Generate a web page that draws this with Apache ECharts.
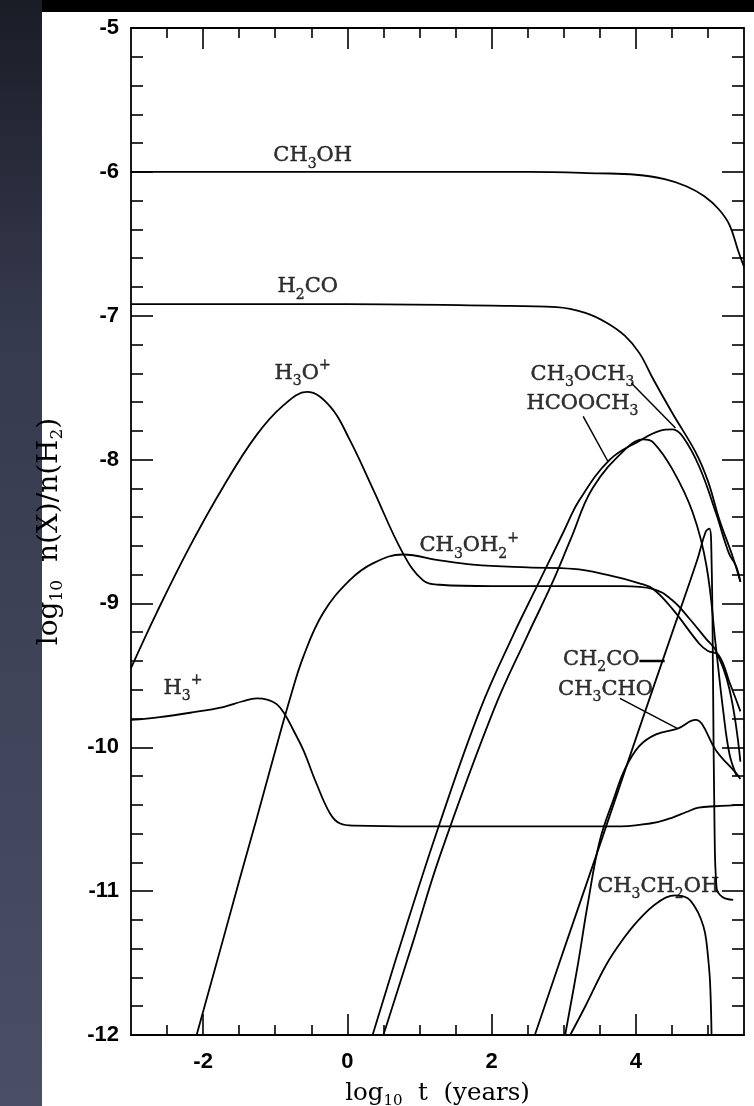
<!DOCTYPE html>
<html><head><meta charset="utf-8">
<script src="https://cdn.jsdelivr.net/npm/echarts@6/dist/echarts.min.js"></script>
<style>
html,body{margin:0;padding:0;background:#000;width:754px;height:1106px;overflow:hidden;}
#bgLeft{position:absolute;left:0;top:0;width:42px;height:1106px;background:linear-gradient(to bottom,#1a1c26 0%,#363a4e 30%,#4a4f66 100%);}
#panel{position:absolute;left:42px;top:12px;width:712px;height:1094px;background:#fff;}
#chart{position:absolute;left:0;top:0;width:754px;height:1106px;}
</style></head><body>
<div id="bgLeft"></div><div id="panel"></div><div id="chart"></div>
<script>
// ---- axis ticks ----
const xMin = -3, xMax = 5.5, yMin = -12, yMax = -5;
const xLabelTicks = [-2, 0, 2, 4];
const xMinorTicks = [-2.5, -1.5, -1, -0.5, 0.5, 1, 1.5, 2.5, 3, 3.5, 4.5, 5];
const yLabelTicks = [-12, -11, -10, -9, -8, -7, -6, -5];
const yMinorTicks = [];
for (let k = -12; k < -5; k++) { for (let j = 1; j <= 4; j++) yMinorTicks.push(+(k + j * 0.2).toFixed(1)); }

// ---- curves (log10 t, log10 abundance) ----
const ch3ohX = [-3, -1, 1, 2.5, 3.5, 4.0, 4.4, 4.7, 4.95, 5.15, 5.3, 5.42, 5.5];
const ch3ohY = [-6.0, -6.0, -6.0, -6.0, -6.01, -6.02, -6.05, -6.10, -6.17, -6.26, -6.37, -6.55, -6.66];

const h2coX = [-3, 0, 2, 2.9, 3.3, 3.6, 3.85, 4.05, 4.24, 4.51, 4.83, 5.0, 5.16, 5.34, 5.45];
const h2coY = [-6.92, -6.92, -6.93, -6.94, -6.98, -7.05, -7.14, -7.26, -7.44, -7.68, -7.95, -8.15, -8.42, -8.67, -8.85];

const h3oX = [-3, -2.64, -2.18, -1.71, -1.26, -0.88, -0.56, -0.24, 0.03, 0.36, 0.77, 1.05, 1.28, 2, 3, 3.82, 4.24, 4.51, 4.75, 4.98, 5.1, 5.3, 5.45];
const h3oY = [-9.45, -9.06, -8.6, -8.18, -7.83, -7.62, -7.53, -7.63, -7.86, -8.21, -8.65, -8.84, -8.87, -8.88, -8.88, -8.88, -8.90, -8.98, -9.11, -9.25, -9.32, -9.6, -10.1];

const h3pX = [-3, -2.6, -2.18, -1.72, -1.45, -1.26, -1.1, -0.98, -0.88, -0.75, -0.61, -0.43, -0.24, -0.1, 0.1, 1, 2, 3, 3.8, 4.04, 4.3, 4.5, 4.7, 4.87, 5.1, 5.5];
const h3pY = [-9.81, -9.79, -9.76, -9.72, -9.68, -9.66, -9.67, -9.70, -9.76, -9.88, -10.02, -10.25, -10.46, -10.53, -10.545, -10.55, -10.55, -10.55, -10.55, -10.54, -10.52, -10.49, -10.45, -10.42, -10.41, -10.40];

const ch3oh2X = [-2.09, -1.72, -1.49, -1.26, -1.03, -0.8, -0.61, -0.34, 0.03, 0.36, 0.77, 1.28, 1.74, 2.5, 3.13, 3.59, 4.05, 4.24, 4.51, 4.88, 5.0, 5.15, 5.3, 5.45];
const ch3oh2Y = [-12, -11.33, -10.91, -10.5, -10.08, -9.67, -9.37, -9.07, -8.84, -8.72, -8.66, -8.70, -8.73, -8.75, -8.76, -8.80, -8.86, -8.90, -9.04, -9.28, -9.33, -9.36, -9.55, -9.75];

const ch3och3X = [0.35, 0.8, 1.28, 1.84, 2.3, 2.64, 3.0, 3.22, 3.64, 4.05, 4.33, 4.51, 4.65, 4.88, 5.11, 5.29, 5.39, 5.45];
const ch3och3Y = [-12, -11.27, -10.53, -9.74, -9.22, -8.87, -8.5, -8.28, -8.0, -7.87, -7.80, -7.79, -7.84, -8.05, -8.37, -8.65, -8.74, -8.85];

const hcooch3X = [0.5, 0.9, 1.28, 2.03, 2.5, 2.83, 3.1, 3.40, 3.87, 4.10, 4.24, 4.51, 4.79, 4.98, 5.11, 5.21, 5.3, 5.4];
const hcooch3Y = [-12, -11.37, -10.76, -9.74, -9.22, -8.87, -8.55, -8.20, -7.92, -7.86, -7.88, -8.07, -8.37, -8.74, -9.30, -9.74, -10.05, -10.2];

const ch2coX = [2.6, 3.0, 3.5, 4.0, 4.5, 4.85, 4.97, 5.02, 5.05, 5.07, 5.09, 5.12, 5.2, 5.35];
const ch2coY = [-12, -11.41, -10.68, -9.94, -9.21, -8.7, -8.5, -8.48, -8.7, -9.5, -10.5, -10.98, -11.04, -11.06];

const ch3choX = [3.02, 3.2, 3.33, 3.5, 3.7, 3.85, 4.05, 4.28, 4.58, 4.83, 4.92, 5.11, 5.39, 5.45];
const ch3choY = [-12, -11.5, -11.1, -10.65, -10.35, -10.15, -9.99, -9.91, -9.87, -9.81, -9.84, -10.02, -10.18, -10.22];

const c2h5ohX = [3.09, 3.3, 3.58, 3.8, 4.04, 4.3, 4.55, 4.72, 4.82, 4.9, 4.96, 5.0, 5.03, 5.05];
const c2h5ohY = [-12, -11.8, -11.52, -11.35, -11.2, -11.08, -11.03, -11.05, -11.11, -11.19, -11.29, -11.45, -11.64, -12.0];

// ---- curve labels: position (data coordinates) and text ----
const labelX = [-0.48, -0.55, -0.62, 1.69, -2.28, 3.26, 3.26, 3.52, 3.58, 4.31];
const labelY = [-5.89, -6.80, -7.40, -8.60, -9.59, -7.41, -7.61, -9.39, -9.60, -10.97];
const labelText = [
  'CH{sub|3}OH', 'H{sub|2}CO', 'H{sub|3}O{sup|+}', 'CH{sub|3}OH{sub|2}{sup|+}', 'H{sub|3}{sup|+}',
  'CH{sub|3}OCH{sub|3}', 'HCOOCH{sub|3}', 'CH{sub|2}CO', 'CH{sub|3}CHO', 'CH{sub|3}CH{sub|2}OH'
];

// ---- leader lines ----
const leaderA = [[3.94, -7.47], [4.55, -7.78]];   // CH3OCH3
const leaderB = [[3.27, -7.70], [3.61, -8.01]];   // HCOOCH3
const leaderC = [[4.05, -9.40], [4.40, -9.40]];   // CH2CO
const leaderD = [[3.78, -9.66], [4.58, -9.87]];   // CH3CHO

function zip(xs, ys) { return xs.map((x, i) => [x, ys[i]]); }

const curveStyle = { color: '#000', width: 1.8 };
function curve(name, xs, ys) {
  return { name, type: 'line', data: zip(xs, ys), showSymbol: false, smooth: 0.4,
    lineStyle: curveStyle, itemStyle: { color: '#000' }, silent: true, animation: false, z: 3 };
}
function leader(pts, w) {
  return { type: 'line', data: pts, showSymbol: false, lineStyle: { color: '#000', width: w || 1.5 }, silent: true, animation: false, z: 3 };
}

const richCommon = {
  n: { fontFamily: 'DejaVu Serif', fontSize: 21, color: '#000', lineHeight: 30, verticalAlign: 'middle', textBorderColor: '#000', textBorderWidth: 0.5 },
  sub: { fontFamily: 'DejaVu Serif', fontSize: 14, color: '#000', lineHeight: 30, verticalAlign: 'bottom', textBorderColor: '#000', textBorderWidth: 0.4 },
  sup: { fontFamily: 'DejaVu Serif', fontSize: 14, color: '#000', lineHeight: 30, verticalAlign: 'top', textBorderColor: '#000', textBorderWidth: 0.4 }
};
function richText(t) {
  return t.replace(/(^|\})([^{}]+)(?=\{|$)/g, (m, a, b) => a + '{n|' + b + '}');
}

const chart = echarts.init(document.getElementById('chart'), null, { renderer: 'canvas' });

const axisLineStyle = { color: '#000', width: 1.8 };
const tickStyle = { color: '#000', width: 1.6 };
const tickFont = { color: '#000', fontFamily: 'Liberation Sans', fontSize: 22, fontWeight: 'bold' };
function xAx(pos, ticks, len, withLine, withLabels) {
  return {
    type: 'value', position: pos, min: xMin, max: xMax,
    axisLine: { show: withLine, onZero: false, lineStyle: axisLineStyle },
    axisTick: { show: true, inside: true, length: len, customValues: ticks, lineStyle: tickStyle },
    axisLabel: withLabels ? Object.assign({ show: true, customValues: xLabelTicks, margin: 16, formatter: v => String(v) }, tickFont) : { show: false },
    splitLine: { show: false }
  };
}
function yAx(pos, ticks, len, withLine, withLabels) {
  return {
    type: 'value', position: pos, min: yMin, max: yMax,
    axisLine: { show: withLine, onZero: false, lineStyle: axisLineStyle },
    axisTick: { show: true, inside: true, length: len, customValues: ticks, lineStyle: tickStyle },
    axisLabel: withLabels ? Object.assign({ show: true, customValues: yLabelTicks, margin: 12, formatter: v => String(v) }, tickFont) : { show: false },
    splitLine: { show: false }
  };
}

const xAxes = [xAx('bottom', xMinorTicks, 10, true, true), xAx('bottom', xLabelTicks, 21, false, false),
               xAx('top', xMinorTicks, 10, true, false), xAx('top', xLabelTicks, 21, false, false)];
const yAxes = [yAx('left', yMinorTicks, 12, true, true), yAx('left', yLabelTicks, 22, false, false),
               yAx('right', yMinorTicks, 12, true, false), yAx('right', yLabelTicks, 22, false, false)];

xAxes[0].name = 'log{sub|10}  t  (years)';
xAxes[0].nameLocation = 'middle';
xAxes[0].nameGap = 44;
xAxes[0].nameMoveOverlap = false;
xAxes[0].nameTextStyle = { fontFamily: 'DejaVu Serif', fontSize: 24.5, color: '#000', lineHeight: 30, verticalAlign: 'top',
  rich: { sub: { fontFamily: 'DejaVu Serif', fontSize: 15, color: '#000', lineHeight: 30, verticalAlign: 'bottom' } } };
yAxes[0].name = 'log{sub|10}  n(X)/n(H{sub|2})';
yAxes[0].nameLocation = 'middle';
yAxes[0].nameGap = 65;
yAxes[0].nameRotate = 90;
yAxes[0].nameMoveOverlap = false;
yAxes[0].nameTextStyle = { fontFamily: 'DejaVu Serif', fontSize: 28, color: '#000', lineHeight: 32,
  rich: { sub: { fontFamily: 'DejaVu Serif', fontSize: 17, color: '#000', lineHeight: 32, verticalAlign: 'bottom' } } };

const labelData = labelX.map((x, i) => ({ value: [x, labelY[i]], txt: richText(labelText[i]) }));

const option = {
  backgroundColor: 'transparent',
  animation: false,
  grid: { left: 131, right: 10, top: 28, bottom: 71, containLabel: false, outerBoundsMode: 'none' },
  xAxis: xAxes,
  yAxis: yAxes,
  series: [
    curve('CH3OH', ch3ohX, ch3ohY),
    curve('H2CO', h2coX, h2coY),
    curve('H3O+', h3oX, h3oY),
    curve('H3+', h3pX, h3pY),
    curve('CH3OH2+', ch3oh2X, ch3oh2Y),
    curve('CH3OCH3', ch3och3X, ch3och3Y),
    curve('HCOOCH3', hcooch3X, hcooch3Y),
    curve('CH2CO', ch2coX, ch2coY),
    curve('CH3CHO', ch3choX, ch3choY),
    curve('CH3CH2OH', c2h5ohX, c2h5ohY),
    leader(leaderA), leader(leaderB), leader(leaderC, 2.5), leader(leaderD),
    {
      type: 'scatter', data: labelData, symbolSize: 1, itemStyle: { color: 'rgba(0,0,0,0)' }, silent: true, z: 5,
      label: { show: true, position: 'inside', color: '#000', formatter: p => p.data.txt, rich: richCommon }
    }
  ]
};
chart.setOption(option);
</script>
</body></html>
